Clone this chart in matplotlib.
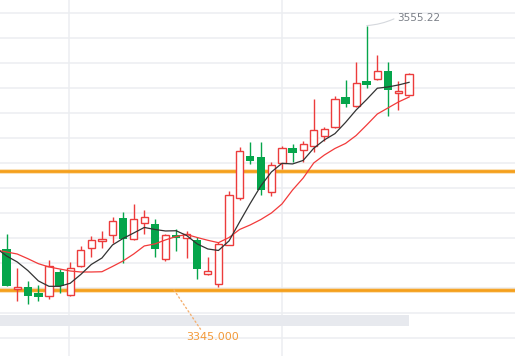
import numpy as np
import matplotlib
matplotlib.use("Agg")
import matplotlib.pyplot as plt

# %% data (prices)
opens = [3377.4, 3345.6, 3347.1, 3342.6, 3340.5, 3359.5, 3340.8, 3363.8, 3378.2, 3383.7,
         3388.5, 3402.2, 3385.4, 3398.3, 3397.2, 3369.4, 3388.7, 3386.1, 3384.8, 3358.0,
         3349.5, 3380.8, 3417.9, 3451.5, 3450.7, 3423.1, 3446.0, 3457.9, 3456.1, 3459.5,
         3467.2, 3474.3, 3498.7, 3491.0, 3511.2, 3512.5, 3519.1, 3501.4, 3499.8]
highs = [3389.5, 3362.3, 3352.2, 3348.7, 3368.9, 3361.5, 3367.3, 3380.2, 3387.9, 3391.9,
         3403.3, 3406.8, 3413.4, 3408.6, 3401.2, 3389.5, 3393.3, 3391.9, 3386.9, 3371.2,
         3383.2, 3423.9, 3458.9, 3462.7, 3462.7, 3447.0, 3459.5, 3461.1, 3463.2, 3496.8,
         3474.6, 3499.2, 3512.0, 3526.3, 3555.22, 3531.8, 3526.0, 3511.2, 3517.5]
lows = [3347.8, 3336.5, 3333.6, 3336.5, 3337.6, 3342.4, 3340.5, 3363.5, 3371.0, 3378.2,
        3382.6, 3366.2, 3385.0, 3389.3, 3371.0, 3368.3, 3376.2, 3370.2, 3354.0, 3356.7,
        3347.6, 3380.8, 3416.6, 3445.2, 3420.8, 3420.0, 3441.2, 3446.8, 3447.0, 3454.9,
        3463.5, 3474.0, 3490.7, 3490.8, 3505.8, 3512.3, 3483.1, 3488.3, 3499.5]
closes = [3348.4, 3347.1, 3340.5, 3339.7, 3363.8, 3348.2, 3362.3, 3376.6, 3384.5, 3385.3,
          3399.6, 3385.3, 3401.8, 3402.8, 3377.4, 3388.5, 3386.1, 3389.5, 3361.9, 3359.9,
          3381.3, 3420.5, 3455.3, 3447.8, 3424.3, 3444.1, 3457.7, 3454.2, 3460.8, 3472.0,
          3472.8, 3496.8, 3492.6, 3509.3, 3508.2, 3518.9, 3504.2, 3503.0, 3516.5]

# moving averages, first point is one bar before the visible window
ma_fast = [3378.4, 3372.0, 3367.3, 3360.5, 3352.2, 3347.9, 3347.9, 3350.3, 3357.3, 3365.3,
           3370.4, 3380.8, 3386.0, 3390.3, 3394.7, 3393.1, 3391.9, 3392.1, 3388.3, 3381.6,
           3377.6, 3376.4, 3384.0, 3399.1, 3413.8, 3427.7, 3438.8, 3445.7, 3445.2, 3448.0,
           3457.7, 3464.3, 3469.3, 3478.2, 3488.1, 3496.5, 3505.4, 3506.4, 3508.0, 3510.1]
ma_slow = [3376.8, 3375.2, 3373.6, 3369.9, 3365.9, 3363.3, 3361.7, 3360.1, 3359.3, 3359.3,
           3359.5, 3363.7, 3368.1, 3373.6, 3380.0, 3381.6, 3384.8, 3387.5, 3389.1, 3386.7,
           3384.5, 3382.6, 3386.7, 3393.1, 3396.7, 3401.0, 3406.2, 3413.4, 3424.5, 3434.0,
           3446.0, 3452.3, 3457.5, 3461.5, 3467.8, 3476.2, 3484.9, 3489.7, 3494.5, 3498.4]

level_low = 3345.0
level_high = 3439.3
peak_label = "3555.22"
level_label = "3345.000"

# %% colours
UP = "#ec3c3c"
DOWN = "#05a54b"
ORANGE = "#f5a01c"
GRID = "#eceef1"

opens = np.array(opens)
closes = np.array(closes)
highs = np.array(highs)
lows = np.array(lows)
x = np.arange(len(opens))
up = closes >= opens

fig = plt.figure(figsize=(5.15, 3.56), dpi=100)
ax = fig.add_axes([0, 0, 1, 1])
ax.set_xlim(-0.623, 48.0)
ax.set_ylim(3292.5, 3575.55)
ax.axis("off")

# grid
for g in np.arange(3564.98, 3290, -19.875):
    ax.axhline(g, color=GRID, lw=1.1, zorder=0)
for gx in [5.89, 26.0]:
    ax.axvline(gx, color=GRID, lw=1.1, zorder=0)

# range bar at the bottom
ax.axhspan(3316.4, 3325.1, xmin=0, xmax=409 / 515, color="#e7e9ee", lw=0, zorder=1)

# levels
for lv in [level_low, level_high]:
    ax.axhline(lv, color=ORANGE, lw=3.4, alpha=0.35, zorder=2)
    ax.axhline(lv, color=ORANGE, lw=2.0, zorder=2)

# wicks
ax.vlines(x[up], lows[up], highs[up], color=UP, lw=1.0, zorder=3)
ax.vlines(x[~up], lows[~up], highs[~up], color=DOWN, lw=1.0, zorder=3)

# bodies
body = np.maximum(np.abs(closes - opens), 1.2)
bottom = np.minimum(opens, closes)
ax.bar(x[up], body[up], bottom=bottom[up], width=0.68, facecolor="white",
       edgecolor=UP, linewidth=1.0, zorder=4)
ax.bar(x[~up], body[~up], bottom=bottom[~up], width=0.8, color=DOWN, zorder=4)

# moving averages
xm = np.arange(-1, len(opens))
ax.plot(xm, ma_slow, color="#f23a3a", lw=0.9, zorder=5)
ax.plot(xm, ma_fast, color="#333333", lw=0.9, zorder=6)

# peak label
i_peak = int(np.argmax(highs))
ax.annotate(peak_label, xy=(x[i_peak], highs[i_peak]), xytext=(30, 8),
            textcoords="offset pixels", ha="left", va="center", fontsize=7.5,
            color="#7a7f87",
            arrowprops=dict(arrowstyle="-", color="#d5d8dd", lw=0.8,
                            relpos=(0, 0.5), shrinkA=0, shrinkB=0,
                            connectionstyle="arc3,rad=-0.1"))

# level label
ax.annotate(level_label, xy=(15.8, level_low), xytext=(39, -47),
            textcoords="offset pixels", ha="center", va="center", fontsize=8,
            color="#f39a3a",
            arrowprops=dict(arrowstyle="-", color="#f5b070", lw=1.0,
                            linestyle=(0, (1, 2)), relpos=(0.3, 1.0),
                            shrinkA=0, shrinkB=0))

fig.savefig("out.png", dpi=100)
